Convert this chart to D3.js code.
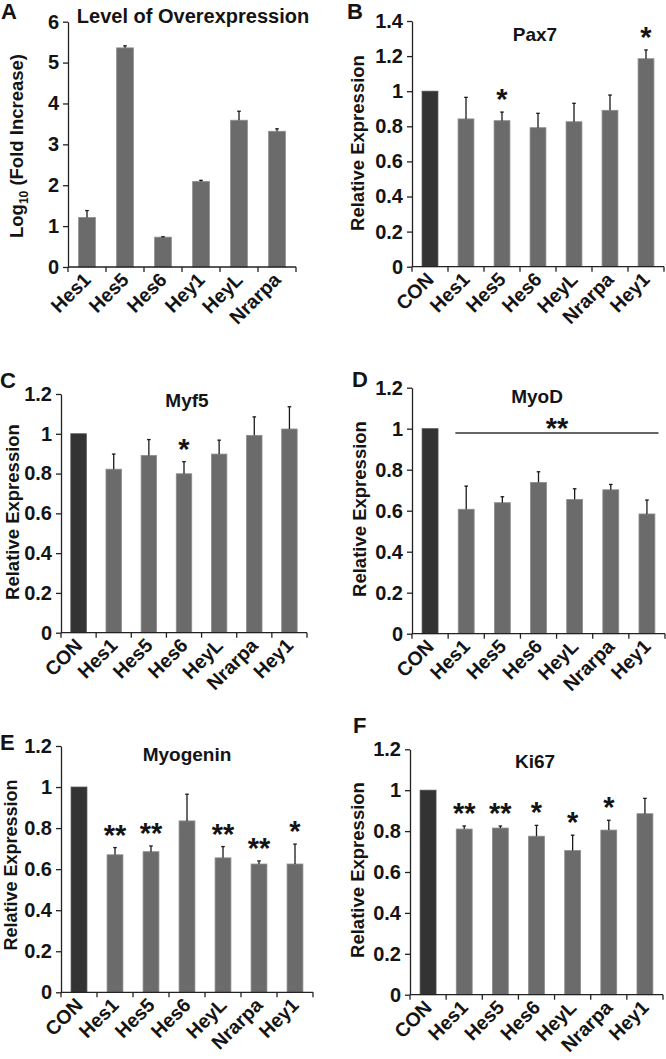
<!DOCTYPE html>
<html><head><meta charset="utf-8">
<script src="https://cdn.jsdelivr.net/npm/d3@7"></script>
<style>
body{margin:0;background:#fff}
svg{display:block}
text{font-family:"Liberation Sans",Arial,sans-serif;font-weight:bold;fill:#141414}
</style>
</head><body>
<svg id="c" width="666" height="1059"></svg>
<script>
// ---------- data ----------
const catsA = ["Hes1","Hes5","Hes6","Hey1","HeyL","Nrarpa"];
const overexpr = [1.21,5.36,0.73,2.09,3.59,3.32];
const overexprErr = [0.17,0.05,0.01,0.03,0.22,0.06];
const ticksA = [0,1,2,3,4,5,6];

const cats = ["CON","Hes1","Hes5","Hes6","HeyL","Nrarpa","Hey1"];
const ticksPax7 = [0,0.2,0.4,0.6,0.8,1,1.2,1.4];
const ticksRel = [0,0.2,0.4,0.6,0.8,1,1.2];

const pax7 = [1,0.842,0.832,0.792,0.826,0.891,1.185];
const pax7Err = [0,0.123,0.049,0.082,0.105,0.087,0.05];
const pax7Sig = ["","","*","","","","*"];

const myf5 = [1,0.822,0.891,0.799,0.898,0.992,1.024];
const myf5Err = [0,0.076,0.08,0.061,0.07,0.093,0.112];
const myf5Sig = ["","","","*","","",""];

const myod = [1,0.607,0.639,0.738,0.655,0.702,0.584];
const myodErr = [0,0.113,0.029,0.052,0.052,0.026,0.068];
const myodSig = ["","","","","","",""];
const myodGroupSig = "**";
const myodGroupLevel = 0.979;

const myogenin = [1,0.67,0.685,0.835,0.655,0.625,0.625];
const myogeninErr = [0,0.035,0.028,0.13,0.055,0.015,0.097];
const myogeninSig = ["","**","**","","**","**","*"];

const ki67 = [1,0.81,0.815,0.775,0.705,0.805,0.885];
const ki67Err = [0,0.015,0.01,0.053,0.075,0.048,0.075];
const ki67Sig = ["","**","**","*","*","*",""];

// ---------- drawing ----------
const svg = d3.select("#c");
const fmt = d => String(+d.toFixed(1));

function panel(cfg){
  const g = svg.append("g");
  const x = d3.scaleBand().domain(cfg.cats).range([cfg.x0, cfg.x1]).padding(0);
  const y = d3.scaleLinear().domain([0, cfg.max]).range([cfg.yZero, cfg.yTop]);
  const bw = x.bandwidth();
  const barW = bw * 0.44;

  // y axis
  const ya = g.append("g").attr("transform", `translate(${cfg.x0},0)`)
    .call(d3.axisLeft(y).tickValues(cfg.ticks).tickSize(5).tickSizeOuter(0).tickPadding(4).tickFormat(fmt));
  ya.select(".domain").attr("stroke","#222").attr("stroke-width",1.3);
  ya.selectAll(".tick line").attr("stroke","#222").attr("stroke-width",1.3);
  ya.selectAll(".tick text").attr("font-size",20).attr("fill","#141414")
    .attr("font-family","Liberation Sans, Arial, sans-serif").attr("font-weight","bold");

  // bars
  g.selectAll("rect.bar").data(cfg.vals).join("rect")
    .attr("x",(d,i)=>x(cfg.cats[i]) + (bw-barW)/2)
    .attr("y",d=>y(d))
    .attr("width",barW)
    .attr("height",d=>y(0)-y(d))
    .attr("fill",(d,i)=>cfg.cats[i]==="CON" ? "#333333" : "#6b6b6b")
    .attr("stroke",(d,i)=>cfg.cats[i]==="CON" ? "#4a4a4a" : "#8c8c8c")
    .attr("stroke-width",0.8);

  // error bars (upper only)
  cfg.vals.forEach((v,i)=>{
    const e = cfg.errs[i];
    if(!e) return;
    const cx = x(cfg.cats[i]) + bw/2;
    g.append("line").attr("x1",cx).attr("x2",cx).attr("y1",y(v)).attr("y2",y(v+e))
      .attr("stroke","#1a1a1a").attr("stroke-width",1.3);
    g.append("line").attr("x1",cx-1.8).attr("x2",cx+1.8).attr("y1",y(v+e)).attr("y2",y(v+e))
      .attr("stroke","#1a1a1a").attr("stroke-width",1.3);
  });

  // significance stars
  if(cfg.sig){
    cfg.sig.forEach((s,i)=>{
      if(!s) return;
      const cx = x(cfg.cats[i]) + bw/2;
      const top = y(cfg.vals[i] + (cfg.errs[i]||0));
      g.append("text").attr("x",cx).attr("y",top - 19 + 16)
        .attr("text-anchor","middle").attr("font-size",29).text(s);
    });
  }

  // x axis line & ticks at band boundaries
  g.append("line").attr("x1",cfg.x0).attr("x2",cfg.x1).attr("y1",cfg.yZero).attr("y2",cfg.yZero)
    .attr("stroke","#222").attr("stroke-width",1.3);
  const bounds = cfg.cats.map(c=>x(c)).concat([cfg.x1]);
  g.selectAll("line.xt").data(bounds).join("line")
    .attr("x1",d=>d).attr("x2",d=>d).attr("y1",cfg.yZero).attr("y2",cfg.yZero+5)
    .attr("stroke","#222").attr("stroke-width",1.3);

  // x labels rotated
  g.selectAll("text.xl").data(cfg.cats).join("text")
    .attr("transform",d=>`translate(${x(d)+bw/2+5},${cfg.yZero+14}) rotate(-45)`)
    .attr("text-anchor","end").attr("font-size",19.5).text(d=>d);

  // title
  g.append("text").attr("x",cfg.titleX).attr("y",cfg.titleY)
    .attr("text-anchor","middle").attr("font-size",cfg.titleSize||19).text(cfg.title);

  // panel letter
  g.append("text").attr("x",cfg.letterX).attr("y",cfg.letterY).attr("font-size",22).text(cfg.letter);

  // y label
  const yl = g.append("text").attr("transform",`translate(${cfg.ylabX},${cfg.ylabY}) rotate(-90)`)
    .attr("text-anchor","middle").attr("dy","0.35em").attr("font-size",cfg.ylabSize||18.5);
  if(cfg.ylabSub){
    yl.append("tspan").text("Log");
    yl.append("tspan").attr("font-size",12).attr("dy","0.35em").text("10");
    yl.append("tspan").attr("dy","-0.25em").text(" (Fold Increase)");
  } else yl.text(cfg.ylab);

  return {g,x,y,bw};
}

panel({cats:catsA, vals:overexpr, errs:overexprErr, ticks:ticksA, max:6,
  x0:68, x1:296, yTop:21.7, yZero:267,
  title:"Level of Overexpression", titleX:193, titleY:23, titleSize:20,
  letter:"A", letterX:1, letterY:19, ylabSub:true, ylabX:17, ylabY:146});

panel({cats, vals:pax7, errs:pax7Err, sig:pax7Sig, ticks:ticksPax7, max:1.4,
  x0:412, x1:664, yTop:21, yZero:266.7,
  title:"Pax7", titleX:535, titleY:41, letter:"B", letterX:347, letterY:19,
  ylab:"Relative Expression", ylabX:358, ylabY:143});

panel({cats, vals:myf5, errs:myf5Err, sig:myf5Sig, ticks:ticksRel, max:1.2,
  x0:61, x1:307, yTop:394, yZero:632.7,
  title:"Myf5", titleX:187, titleY:407, letter:"C", letterX:0, letterY:388,
  ylab:"Relative Expression", ylabX:13, ylabY:512});

const pD = panel({cats, vals:myod, errs:myodErr, sig:myodSig, ticks:ticksRel, max:1.2,
  x0:412, x1:665, yTop:387.7, yZero:633.7,
  title:"MyoD", titleX:537, titleY:403, letter:"D", letterX:352, letterY:387,
  ylab:"Relative Expression", ylabX:360, ylabY:509});
{
  const lx1 = pD.x("Hes1") + pD.bw*0.2, lx2 = pD.x("Hey1") + pD.bw*0.82;
  const ly = pD.y(myodGroupLevel);
  pD.g.append("line").attr("x1",lx1).attr("x2",lx2).attr("y1",ly).attr("y2",ly)
    .attr("stroke","#333").attr("stroke-width",1.3);
  pD.g.append("text").attr("x",(lx1+lx2)/2).attr("y",ly-11+16).attr("text-anchor","middle")
    .attr("font-size",29).text(myodGroupSig);
}

panel({cats, vals:myogenin, errs:myogeninErr, sig:myogeninSig, ticks:ticksRel, max:1.2,
  x0:61, x1:313, yTop:746, yZero:992.3,
  title:"Myogenin", titleX:187, titleY:761, letter:"E", letterX:0, letterY:750,
  ylab:"Relative Expression", ylabX:11, ylabY:865, ylabSize:18});

panel({cats, vals:ki67, errs:ki67Err, sig:ki67Sig, ticks:ticksRel, max:1.2,
  x0:410, x1:663, yTop:749.3, yZero:994.7,
  title:"Ki67", titleX:535, titleY:768, letter:"F", letterX:353, letterY:733,
  ylab:"Relative Expression", ylabX:358, ylabY:870});
</script>
</body></html>
